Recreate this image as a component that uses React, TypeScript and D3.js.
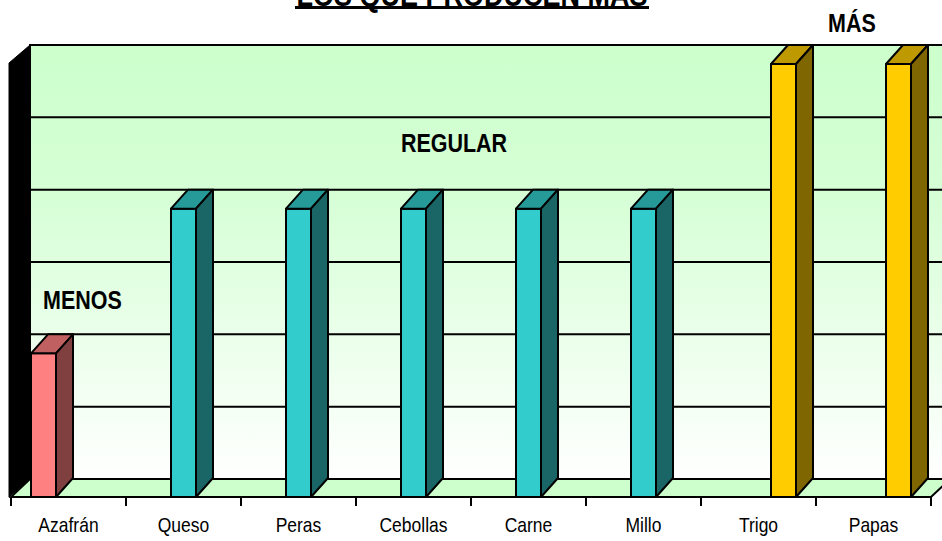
import * as d3 from "d3";

const categories = ["Azafrán", "Queso", "Peras", "Cebollas", "Carne", "Millo", "Trigo", "Papas"];
const seriesNames = ["MENOS", "REGULAR", "MÁS"];
const menosValues = [2, 0, 0, 0, 0, 0, 0, 0];
const regularValues = [0, 4, 4, 4, 4, 4, 0, 0];
const masValues = [0, 0, 0, 0, 0, 0, 6, 6];
const yTicks = [0, 1, 2, 3, 4, 5, 6];
const title = "LOS QUE PRODUCEN MÁS";

const palette: Record<string, { front: string; top: string; side: string }> = {
  MENOS: { front: "#ff8080", top: "#c06060", side: "#804040" },
  REGULAR: { front: "#33cccc", top: "#269999", side: "#1a6666" },
  "MÁS": { front: "#ffcc00", top: "#bf9900", side: "#806600" },
};

export default function App() {
  const width = 942;
  const height = 541;
  const font = "'Liberation Sans', Arial, sans-serif";

  // front plane of the floor and the 3D depth offset
  const frontLeft = 11;
  const frontRight = 931;
  const floorY = 497;
  const depthX = 19;
  const depthY = 18;
  const barDepthX = 17;
  const barDepthY = 19;

  const xScale = d3.scaleBand<string>().domain(categories).range([frontLeft, frontRight]);
  const xInner = d3
    .scaleBand<string>()
    .domain(seriesNames)
    .range([0, xScale.bandwidth()])
    .paddingOuter(0.8);
  // value scale lives on the back wall
  const yScale = d3.scaleLinear().domain([0, 6]).range([floorY - depthY, 45]);

  const backLeft = frontLeft + depthX;
  const backRight = frontRight + depthX;
  const backBottom = yScale(0);
  const backTop = yScale(6);

  const series = [
    { name: "MENOS", values: menosValues },
    { name: "REGULAR", values: regularValues },
    { name: "MÁS", values: masValues },
  ];

  const bars = categories.flatMap((cat, i) =>
    series
      .filter((s) => s.values[i] > 0)
      .map((s) => ({ cat, name: s.name, value: s.values[i] }))
  );

  const stretch = (x: number, y: number, k: number) => `translate(${x},${y}) scale(1,${k})`;

  return (
    <svg
      width={width}
      height={height}
      style={{ position: "absolute", left: 0, top: 0, background: "#ffffff" }}
    >
      <defs>
        <linearGradient id="wallGradient" x1="0" y1="0" x2="0" y2="1">
          <stop offset="0%" stopColor="#ccffcc" />
          <stop offset="35%" stopColor="#d6ffd6" />
          <stop offset="100%" stopColor="#ffffff" />
        </linearGradient>
      </defs>

      {/* back wall */}
      <rect
        x={backLeft}
        y={backTop}
        width={backRight - backLeft}
        height={backBottom - backTop}
        fill="url(#wallGradient)"
        stroke="#000"
        strokeWidth={2}
      />
      {yTicks.map((t) => (
        <line
          key={`grid-${t}`}
          x1={backLeft}
          x2={backRight}
          y1={yScale(t)}
          y2={yScale(t)}
          stroke="#000"
          strokeWidth={2}
        />
      ))}

      {/* left side wall */}
      <path
        d={`M${backLeft},${backTop} L${frontLeft - 2},${backTop + depthY} L${frontLeft - 2},${floorY} L${backLeft},${backBottom} Z`}
        fill="#000"
        stroke="#000"
        strokeWidth={1}
      />

      {/* floor */}
      <path
        d={`M${frontLeft},${floorY} L${backLeft},${backBottom} L${backRight},${backBottom} L${frontRight},${floorY} Z`}
        fill="#ccffcc"
        stroke="#000"
        strokeWidth={2}
      />

      {/* bars */}
      {bars.map((b) => {
        const c = palette[b.name];
        const x = (xScale(b.cat) ?? 0) + (xInner(b.name) ?? 0);
        const w = xInner.bandwidth();
        const yTop = yScale(b.value) + barDepthY;
        const yBottom = floorY;
        return (
          <g key={`${b.cat}-${b.name}`} stroke="#000" strokeWidth={2} strokeLinejoin="round">
            <rect x={x} y={yTop} width={w} height={yBottom - yTop} fill={c.front} />
            <path
              d={`M${x},${yTop} L${x + barDepthX},${yTop - barDepthY} L${x + w + barDepthX},${yTop - barDepthY} L${x + w},${yTop} Z`}
              fill={c.top}
            />
            <path
              d={`M${x + w},${yTop} L${x + w + barDepthX},${yTop - barDepthY} L${x + w + barDepthX},${yBottom - barDepthY} L${x + w},${yBottom} Z`}
              fill={c.side}
            />
          </g>
        );
      })}

      {/* category axis */}
      <line x1={frontLeft} x2={frontRight} y1={floorY} y2={floorY} stroke="#000" strokeWidth={2} />
      {[...categories.map((c) => xScale(c) ?? 0), frontRight].map((x, i) => (
        <line key={`tick-${i}`} x1={x} x2={x} y1={floorY} y2={floorY + 9} stroke="#000" strokeWidth={2} />
      ))}
      {categories.map((c) => (
        <text
          key={`label-${c}`}
          transform={stretch((xScale(c) ?? 0) + xScale.bandwidth() / 2, 532, 1.12)}
          textAnchor="middle"
          fontFamily={font}
          fontSize={17.5}
          fill="#000"
        >
          {c}
        </text>
      ))}

      {/* series annotations */}
      <text transform={stretch(43, 309, 1.2)} fontFamily={font} fontWeight="bold" fontSize={21.5} fill="#000">
        {seriesNames[0]}
      </text>
      <text
        transform={stretch(454, 152, 1.2)}
        textAnchor="middle"
        fontFamily={font}
        fontWeight="bold"
        fontSize={21.5}
        fill="#000"
      >
        {seriesNames[1]}
      </text>
      <text
        transform={stretch(852, 32, 1.2)}
        textAnchor="middle"
        fontFamily={font}
        fontWeight="bold"
        fontSize={21.5}
        fill="#000"
      >
        {seriesNames[2]}
      </text>

      {/* title, cut off at the top */}
      <text
        transform={stretch(472, 5.5, 1.15)}
        textAnchor="middle"
        fontFamily={font}
        fontWeight="bold"
        fontSize={27}
        fill="#000"
      >
        {title}
      </text>
      <line x1={295} x2={649} y1={7.5} y2={7.5} stroke="#000" strokeWidth={3} />
    </svg>
  );
}
